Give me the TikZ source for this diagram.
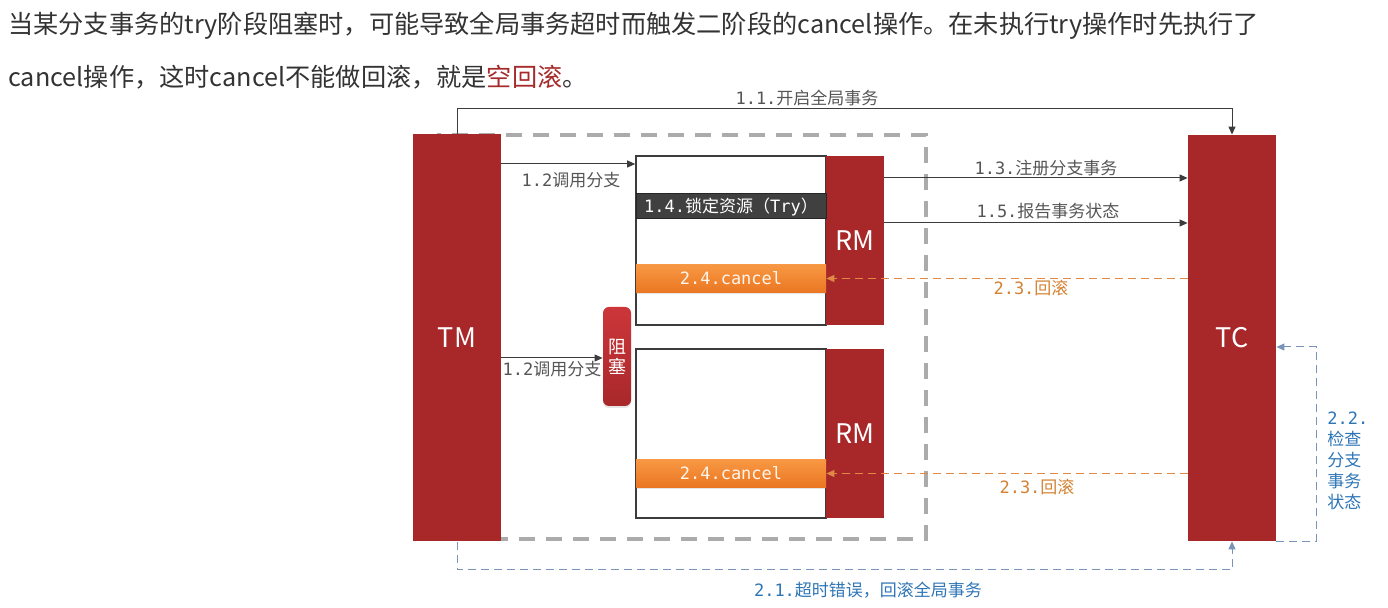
\documentclass[tikz,border=0pt]{standalone}
\usepackage{fontspec}
\setmainfont{Noto Sans CJK SC}
\setmonofont{DejaVu Sans Mono}
\usetikzlibrary{arrows.meta,positioning,shadows}
\definecolor{tmred}{RGB}{168,40,42}
\definecolor{blocktop}{RGB}{204,54,58}
\definecolor{emptyred}{RGB}{165,42,42}
\definecolor{lblgray}{RGB}{85,85,85}
\definecolor{linegray}{RGB}{60,60,60}
\definecolor{canceltop}{RGB}{248,152,68}
\definecolor{cancelbot}{RGB}{234,118,34}
\definecolor{rollorange}{RGB}{224,138,70}
\definecolor{rolltext}{RGB}{212,130,50}
\definecolor{outblue}{RGB}{122,147,186}
\definecolor{outtext}{RGB}{46,117,182}
\newcommand\mn[1]{{\ttfamily#1}}

\begin{document}
\begin{tikzpicture}[x=0.5pt, y=-0.5pt,
  >={Triangle[length=4pt,width=3.5pt]},
  redbar/.style={fill=tmred, text=white, inner sep=0, font=\fontsize{13.5}{14}\selectfont},
  rmbox/.style={draw=linegray, line width=0.8pt, fill=white, minimum width=95pt, minimum height=84.5pt},
  cancelbar/.style={top color=canceltop, bottom color=cancelbot, minimum width=95pt, minimum height=14pt,
    inner sep=0, text=orange!8, font=\ttfamily\fontsize{8.5}{10}\selectfont,
    drop shadow={opacity=0.2, shadow xshift=0pt, shadow yshift=-1pt}},
  lbl/.style={inner sep=0, text=lblgray, font=\fontsize{8.5}{10}\selectfont},
  flow/.style={->, linegray, line width=0.5pt},
  rollback/.style={->, rollorange, line width=0.5pt, dash pattern=on 4pt off 2.5pt},
  timeout/.style={->, outblue, line width=0.5pt, dash pattern=on 4pt off 2.5pt}]
  \useasboundingbox (0,0) rectangle (1388,608);

  % intro text
  \node[anchor=west, align=left, inner sep=0, text=black!80, font=\fontsize{12.6}{26.5}\selectfont] (intro) at (8,51)
    {当某分支事务的try阶段阻塞时，可能导致全局事务超时而触发二阶段的cancel操作。在未执行try操作时先执行了\\
     cancel操作，这时cancel不能做回滚，就是\textcolor{emptyred}{空回滚}。};

  % global transaction boundary
  \draw[black!33, line width=2pt, dash pattern=on 8pt off 5.5pt] (437,135) rectangle (926,539);

  % TM and TC
  \node[redbar, minimum width=44pt, minimum height=203.5pt] (TM) at (457,338) {TM};
  \node[redbar, minimum width=44pt, minimum height=203pt] (TC) at (1232,338) {TC};

  % branch 1
  \node[rmbox] (box1) at (731,240.5) {};
  \node[redbar, minimum width=29pt, minimum height=84.5pt] (rm1) at (855,240.5) {RM};
  \node[fill=black!75, draw=black!85, line width=0.5pt, minimum width=95pt, minimum height=12.5pt, inner sep=0,
    text=white, font=\fontsize{8.5}{10}\selectfont] (try) at (731,206.5) {\mn{1.4.}锁定资源（\mn{Try}）};
  \node[cancelbar] (cancel1) at (731,278.5) {2.4.cancel};

  % branch 2
  \node[rmbox] (box2) at (731,433.5) {};
  \node[redbar, minimum width=29pt, minimum height=84.5pt] (rm2) at (855,433.5) {RM};
  \node[cancelbar] (cancel2) at (731,473.5) {2.4.cancel};

  % blocked call
  \node[rounded corners=3pt, top color=blocktop, bottom color=tmred, minimum width=14pt, minimum height=49.5pt,
    inner sep=0, align=center, text=white, font=\fontsize{9}{10}\selectfont,
    drop shadow={opacity=0.2, shadow xshift=0pt, shadow yshift=-1pt}] (block) at (617,356.5) {阻\\塞};

  % phase one
  \draw[flow] (TM.north) -- ++(0,-26) -| (TC.north);
  \node[lbl] (l11) at (807,98) {\mn{1.1.}开启全局事务};
  \draw[flow] (TM.east |- 0,164) -- (box1.west |- 0,164);
  \node[lbl] (l12a) at (571,180) {\mn{1.2}调用分支};
  \draw[flow] (TM.east |- 0,358) -- (block.west |- 0,358);
  \node[lbl] (l12b) at (552,369) {\mn{1.2}调用分支};
  \draw[flow] (rm1.east |- 0,178) -- (TC.west |- 0,178);
  \node[lbl] (l13) at (1046,168) {\mn{1.3.}注册分支事务};
  \draw[flow] (rm1.east |- 0,223) -- (TC.west |- 0,223);
  \node[lbl] (l15) at (1048,211.5) {\mn{1.5.}报告事务状态};

  % phase two
  \draw[timeout] (TM.south) -- ++(0,28) -| (TC.south);
  \node[lbl, text=outtext] (l21) at (868,590) {\mn{2.1.}超时错误，回滚全局事务};
  \draw[timeout] (TC.south east) -- ++(40,0) |- (TC.east |- 0,347);
  \node[lbl, text=outtext, anchor=west, align=left, font=\fontsize{8.5}{10.5}\selectfont] (l22) at (1327,460.5)
    {\mn{2.2.}\\检查\\分支\\事务\\状态};
  \draw[rollback] (TC.west |- cancel1.east) -- (cancel1.east);
  \node[lbl, text=rolltext] (l23a) at (1031,288.5) {\mn{2.3.}回滚};
  \draw[rollback] (TC.west |- cancel2.east) -- (cancel2.east);
  \node[lbl, text=rolltext] (l23b) at (1037,487) {\mn{2.3.}回滚};
\end{tikzpicture}
\end{document}
